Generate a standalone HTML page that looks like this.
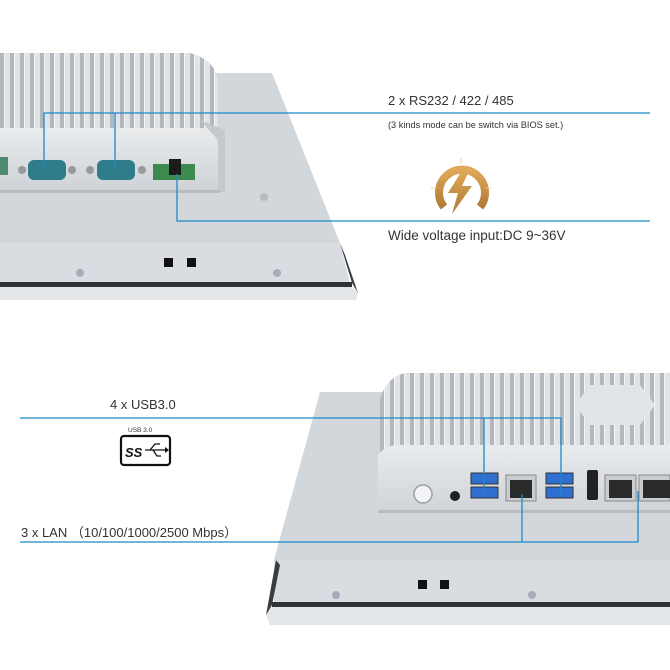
<!DOCTYPE html>
<html><head><style>html,body{margin:0;padding:0;background:#fff}svg{display:block}</style></head><body>
<svg width="670" height="670" viewBox="0 0 670 670" xmlns="http://www.w3.org/2000/svg" font-family="Liberation Sans, Noto Sans CJK SC, sans-serif">
<defs>
<pattern id="fins" width="10" height="10" patternUnits="userSpaceOnUse">
<rect width="10" height="10" fill="#e1e4e7"/><rect x="0" width="4" height="10" fill="#b3b8be"/><rect x="4" width="1" height="10" fill="#f4f5f6"/>
</pattern>
<linearGradient id="brush" x1="0" y1="0" x2="0" y2="1"><stop offset="0" stop-color="#e9ebed"/><stop offset="1" stop-color="#cfd3d7"/></linearGradient>
<linearGradient id="gold" x1="0" y1="0" x2="0" y2="1"><stop offset="0" stop-color="#e0a95a"/><stop offset="1" stop-color="#b07a34"/></linearGradient>
</defs>
<rect width="670" height="670" fill="#fff"/>

<!-- TOP DEVICE -->
<polygon points="0,73 272,73 340,243 0,243" fill="#d2d7dc"/>
<polygon points="0,243 340,243 350,283 0,283" fill="#d9dde1"/>
<rect x="0" y="282" width="352" height="5" fill="#2f3336"/>
<polygon points="0,287 352,287 358,293 356,300 0,300" fill="#e3e6e9"/>
<polygon points="340,243 352,283 358,293 345,255" fill="#3a3d40"/>
<rect x="164" y="258" width="9" height="9" fill="#111"/><rect x="187" y="258" width="9" height="9" fill="#111"/>
<circle cx="80" cy="273" r="4" fill="#aab"/><circle cx="277" cy="273" r="4" fill="#aab"/><circle cx="264" cy="197" r="4" fill="#b8bcc0"/>
<!-- heatsink -->
<path d="M0,53 L190,53 Q215,60 218,80 L218,128 L0,128 Z" fill="url(#fins)"/>
<path d="M0,128 L210,128 Q218,135 218,150 L218,190 L0,190 Z" fill="url(#brush)"/>
<path d="M200,120 L225,130 L225,192 L218,192 L218,140 Z" fill="#c4c9ce"/>
<rect x="0" y="190" width="220" height="3" fill="#b7bcc1"/>
<!-- ports -->
<rect x="0" y="157" width="8" height="18" fill="#4d8a6f"/>
<circle cx="22" cy="170" r="4" fill="#999"/><rect x="28" y="160" width="38" height="20" rx="6" fill="#2f7d8b"/><circle cx="72" cy="170" r="4" fill="#999"/>
<circle cx="90" cy="170" r="4" fill="#999"/><rect x="97" y="160" width="38" height="20" rx="6" fill="#2f7d8b"/><circle cx="142" cy="170" r="4" fill="#999"/>
<rect x="153" y="164" width="42" height="16" fill="#3c8a4d"/><rect x="169" y="159" width="12" height="16" fill="#1b1b1b"/>
<!-- blue lines top -->
<g stroke="#1e88c8" stroke-width="1.3" fill="none">
<polyline points="44,168 44,113 650,113"/><line x1="115" y1="113" x2="115" y2="170"/>
<polyline points="177,174 177,221 650,221"/>
</g>
<text x="388" y="105" font-size="13" fill="#333">2 x RS232 / 422 / 485</text>
<text x="388" y="128" font-size="9.2" fill="#333">(3 kinds mode can be switch via BIOS set.)</text>
<text x="388" y="240" font-size="13.5" fill="#333">Wide voltage input:DC 9~36V</text>
<!-- power icon -->
<path d="M444,207 A23,23 0 1 1 480,207" stroke="url(#gold)" stroke-width="8" fill="none"/>
<polygon points="463,169 448,193 458,193 452,214 472,186 462,186 470,169" fill="url(#gold)"/>
<g stroke="#e8c58e" stroke-width="0.8"><line x1="461" y1="158" x2="461" y2="164"/><line x1="431" y1="188" x2="437" y2="188"/><line x1="485" y1="188" x2="491" y2="188"/></g>

<!-- BOTTOM DEVICE -->
<polygon points="320,392 670,392 670,560 274,560" fill="#d2d7dc"/>
<polygon points="274,560 670,560 670,603 274,603" fill="#d9dde1"/>
<rect x="272" y="602" width="398" height="5" fill="#2f3336"/>
<polygon points="268,607 670,607 670,625 270,625 266,615" fill="#e3e6e9"/>
<polygon points="276,560 266,615 272,605 280,565" fill="#3a3d40"/>
<rect x="418" y="580" width="9" height="9" fill="#111"/><rect x="440" y="580" width="9" height="9" fill="#111"/>
<circle cx="336" cy="595" r="4" fill="#aab"/><circle cx="532" cy="595" r="4" fill="#aab"/>
<!-- heatsink -->
<path d="M405,373 L670,373 L670,455 L380,455 L380,400 Q385,378 405,373 Z" fill="url(#fins)"/>
<polygon points="590,385 640,385 655,405 640,425 590,425 575,405" fill="#e2e5e8"/>
<path d="M378,455 Q385,445 400,445 L670,445 L670,513 L378,513 Z" fill="url(#brush)"/>
<rect x="378" y="510" width="292" height="3" fill="#b7bcc1"/>
<circle cx="423" cy="494" r="9" fill="#f2f3f4" stroke="#9aa0a6" stroke-width="1.5"/>
<circle cx="455" cy="496" r="5" fill="#222"/>
<rect x="471" y="473" width="27" height="11" fill="#2e6fd0" stroke="#333"/><rect x="471" y="487" width="27" height="11" fill="#2e6fd0" stroke="#333"/>
<rect x="546" y="473" width="27" height="11" fill="#2e6fd0" stroke="#333"/><rect x="546" y="487" width="27" height="11" fill="#2e6fd0" stroke="#333"/>
<rect x="506" y="475" width="30" height="26" fill="#c9cdd1" stroke="#888"/><rect x="510" y="480" width="22" height="18" fill="#2a2a2a"/>
<rect x="587" y="470" width="11" height="30" rx="2" fill="#222"/>
<rect x="605" y="475" width="31" height="26" fill="#c9cdd1" stroke="#888"/><rect x="609" y="480" width="23" height="18" fill="#2a2a2a"/>
<rect x="639" y="475" width="31" height="26" fill="#c9cdd1" stroke="#888"/><rect x="643" y="480" width="27" height="18" fill="#2a2a2a"/>
<g stroke="#1e88c8" stroke-width="1.3" fill="none">
<polyline points="20,418 561,418 561,494"/><line x1="484" y1="418" x2="484" y2="494"/>
<polyline points="20,542 638,542 638,491"/><line x1="522" y1="542" x2="522" y2="494"/>
</g>
<text x="110" y="409" font-size="13" fill="#333">4 x USB3.0</text>
<text x="21" y="537" font-size="13" fill="#333">3 x LAN （10/100/1000/2500 Mbps）</text>
<text x="128" y="432" font-size="6.5" fill="#333">USB 3.0</text>
<rect x="121" y="436" width="49" height="29" rx="3" fill="#fff" stroke="#111" stroke-width="2.2"/>
<text x="125" y="457" font-size="13" font-style="italic" font-weight="bold" fill="#111">SS</text>
<path d="M145,450 L165,450 M150,450 L155,444 L160,444 M153,450 L157,456 L161,456" stroke="#111" stroke-width="1.3" fill="none"/>
<polygon points="165,447 169,450 165,453" fill="#111"/>
</svg>
</body></html>
